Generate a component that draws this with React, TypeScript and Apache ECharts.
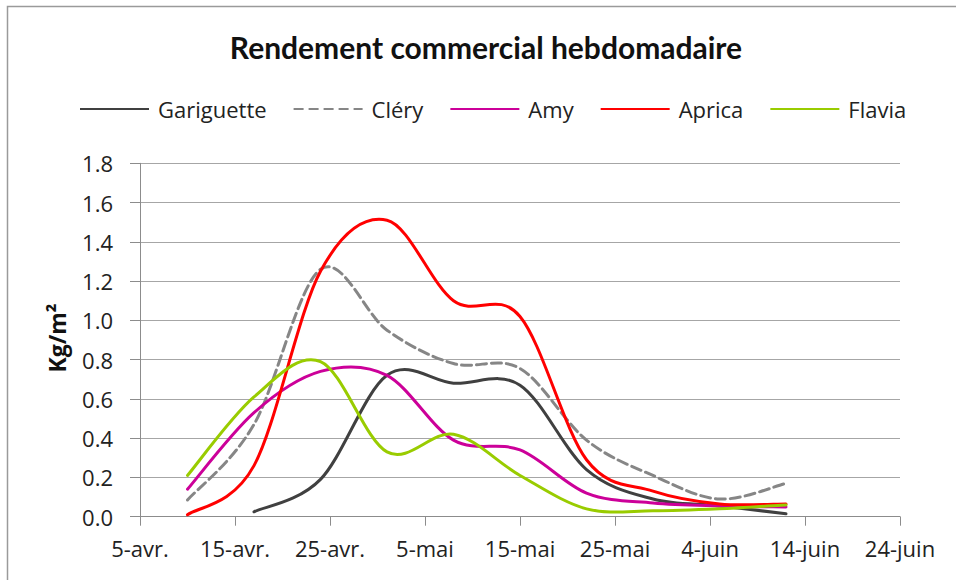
import React, { useEffect, useRef } from "react";
import * as echarts from "echarts";

// Axis start and weekly sample dates
const axisStart = "2015-04-05";
const weekDates = [
  "2015-04-10", "2015-04-17", "2015-04-24", "2015-05-01", "2015-05-08",
  "2015-05-15", "2015-05-22", "2015-05-29", "2015-06-05", "2015-06-12",
];
const tickLabels = [
  "5-avr.", "15-avr.", "25-avr.", "5-mai", "15-mai",
  "25-mai", "4-juin", "14-juin", "24-juin",
];

const gariguette = [null, 0.025, 0.19, 0.72, 0.68, 0.67, 0.24, 0.09, 0.055, 0.015];
const clery = [0.085, 0.47, 1.26, 0.95, 0.78, 0.755, 0.39, 0.21, 0.09, 0.17];
const amy = [0.14, 0.53, 0.74, 0.72, 0.39, 0.34, 0.12, 0.07, 0.055, 0.05];
const aprica = [0.01, 0.26, 1.25, 1.51, 1.1, 1.02, 0.29, 0.13, 0.065, 0.065];
const flavia = [0.21, 0.61, 0.79, 0.33, 0.42, 0.21, 0.04, 0.03, 0.04, 0.06];

const seriesNames = ["Gariguette", "Cléry", "Amy", "Aprica", "Flavia"];
const seriesValues = [gariguette, clery, amy, aprica, flavia];
const seriesColors = ["#404040", "#868686", "#CC0099", "#FF0000", "#99CC00"];
const seriesDash: (number[] | null)[] = [null, [10, 5], null, null, null];

const DAY = 24 * 3600 * 1000;
const startMs = Date.parse(axisStart);
const dayOffsets = weekDates.map((d) => Math.round((Date.parse(d) - startMs) / DAY));

const FONT = "Lato";
const LABEL_FONT = "Open Sans";

// Excel-like smoothed line (Catmull-Rom converted to cubic Bezier), points from the axis scales
function smoothPath(pts: number[][]): string {
  if (!pts.length) return "";
  let d = `M${pts[0][0]},${pts[0][1]}`;
  for (let k = 0; k < pts.length - 1; k++) {
    const p0 = pts[k - 1] || pts[k];
    const p1 = pts[k];
    const p2 = pts[k + 1];
    const p3 = pts[k + 2] || pts[k + 1];
    const c1x = p1[0] + (p2[0] - p0[0]) / 6;
    const c1y = p1[1] + (p2[1] - p0[1]) / 6;
    const c2x = p2[0] - (p3[0] - p1[0]) / 6;
    const c2y = p2[1] - (p3[1] - p1[1]) / 6;
    d += ` C${c1x},${c1y} ${c2x},${c2y} ${p2[0]},${p2[1]}`;
  }
  return d;
}

export default function App() {
  const ref = useRef<HTMLDivElement>(null);
  useEffect(() => {
    if (!ref.current) return;
    const chart = echarts.init(ref.current, null, { renderer: "svg" });

    // Line series carry the legend icons (no marks of their own)
    const legendSeries = seriesNames.map((name, i) => ({
      name,
      type: "line",
      symbol: "none",
      data: [],
      lineStyle: {
        color: seriesColors[i],
        width: 3,
        type: seriesDash[i] || "solid",
      },
      itemStyle: { color: seriesColors[i] },
    }));

    // Custom series draw the smoothed curves through the axis scales
    const curveSeries = seriesNames.map((name, i) => ({
      name,
      type: "custom",
      coordinateSystem: "cartesian2d",
      silent: true,
      data: [[0, 0]],
      encode: { x: 0, y: 1 },
      renderItem: (_params: any, api: any) => {
        const vals = seriesValues[i];
        const pts: number[][] = [];
        vals.forEach((v, j) => {
          if (v != null) pts.push(api.coord([dayOffsets[j], v]));
        });
        return {
          type: "path",
          shape: { pathData: smoothPath(pts) },
          style: {
            fill: "none",
            stroke: seriesColors[i],
            lineWidth: 3,
            lineDash: seriesDash[i] || null,
            lineCap: "round",
            lineJoin: "round",
          },
        };
      },
    }));

    const option: any = {
      animation: false,
      backgroundColor: "#ffffff",
      textStyle: { fontFamily: FONT },
      graphic: [
        {
          type: "rect",
          shape: { x: 7.5, y: 6.5, width: 980, height: 620 },
          style: { fill: "none", stroke: "#9a9a9a", lineWidth: 1.5 },
          silent: true,
        },
        {
          type: "text",
          x: 486,
          y: 47,
          style: {
            text: "Rendement commercial hebdomadaire",
            font: `bold 30px ${FONT}`,
            fill: "#111",
            textAlign: "center",
            textVerticalAlign: "middle",
          },
        },
        {
          type: "text",
          x: 57,
          y: 338,
          rotation: Math.PI / 2,
          style: {
            text: "Kg/m²",
            font: `bold 23px '${LABEL_FONT}'`,
            fill: "#111",
            textAlign: "center",
            textVerticalAlign: "middle",
          },
        },
      ],
      legend: {
        left: 74,
        top: 93,
        itemWidth: 69,
        itemHeight: 14,
        itemGap: 26,
        itemStyle: { opacity: 0 },
        textStyle: { fontSize: 22, color: "#222", fontFamily: LABEL_FONT, padding: [0, 0, 0, 4] },
        data: seriesNames,
      },
      grid: { left: 140, right: 56, top: 163.3, bottom: 63.3, containLabel: false },
      xAxis: {
        type: "value",
        min: 0,
        max: 80,
        interval: 10,
        axisLine: { show: true, lineStyle: { color: "#8c8c8c", width: 1 } },
        axisTick: { show: true, length: 9, lineStyle: { color: "#8c8c8c" } },
        splitLine: { show: false },
        axisLabel: {
          margin: 20,
          fontSize: 22,
          color: "#222",
          fontFamily: LABEL_FONT,
          formatter: (v: number) => tickLabels[Math.round(v / 10)] ?? "",
        },
      },
      yAxis: {
        type: "value",
        min: 0,
        max: 1.8,
        interval: 0.2,
        axisLine: { show: true, lineStyle: { color: "#8c8c8c", width: 1 } },
        axisTick: { show: true, length: 10, lineStyle: { color: "#8c8c8c" } },
        splitLine: { show: true, lineStyle: { color: "#a6a6a6", width: 1 } },
        axisLabel: {
          margin: 27,
          fontSize: 22,
          color: "#222",
          fontFamily: LABEL_FONT,
          formatter: (v: number) => v.toFixed(1),
        },
      },
      series: [...legendSeries, ...curveSeries],
    };
    chart.setOption(option);
    return () => chart.dispose();
  }, []);
  return (
    <div
      ref={ref}
      style={{ position: "absolute", left: 0, top: 0, width: 956, height: 580, background: "#fff" }}
    />
  );
}
